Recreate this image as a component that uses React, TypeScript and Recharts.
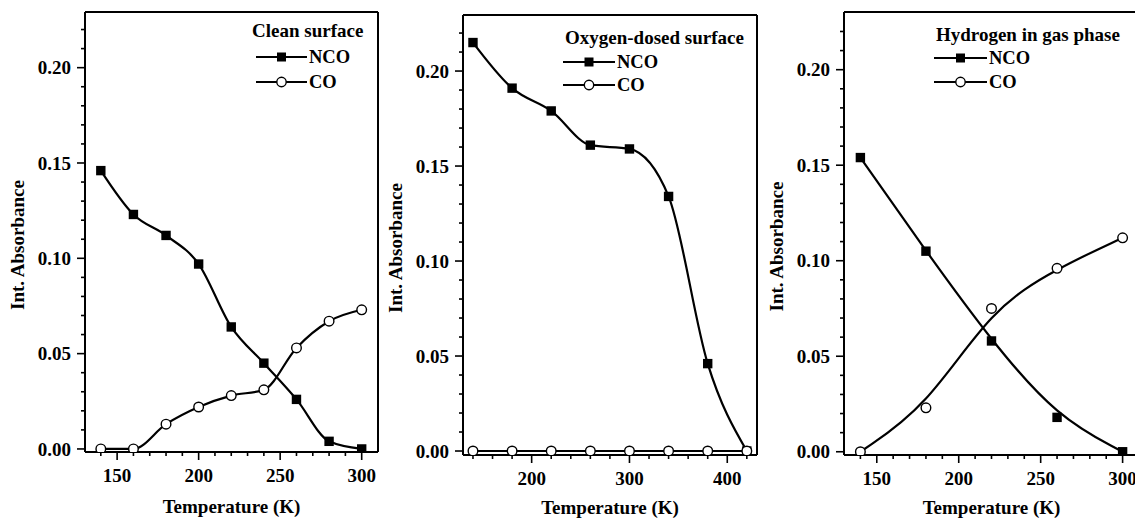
import React from 'react';
import { LineChart, Line, XAxis, YAxis } from 'recharts';

const FONT = "'Liberation Serif', 'Times New Roman', serif";

// Panel 1: Clean surface
const temps1 = [140, 160, 180, 200, 220, 240, 260, 280, 300];
const nco1 = [0.146, 0.123, 0.112, 0.097, 0.064, 0.045, 0.026, 0.004, 0.0];
const co1 = [0.0, 0.0, 0.013, 0.022, 0.028, 0.031, 0.053, 0.067, 0.073];

// Panel 2: Oxygen-dosed surface
const temps2 = [140, 180, 220, 260, 300, 340, 380, 420];
const nco2 = [0.215, 0.191, 0.179, 0.161, 0.159, 0.134, 0.046, 0.0];
const co2 = [0, 0, 0, 0, 0, 0, 0, 0];

// Panel 3: Hydrogen in gas phase
const temps3 = [140, 180, 220, 260, 300];
const nco3 = [0.154, 0.105, 0.058, 0.018, 0.0];
const co3 = [0.0, 0.023, 0.075, 0.096, 0.112];

const titles = ['Clean surface', 'Oxygen-dosed surface', 'Hydrogen in gas phase'];
const seriesNames = ['NCO', 'CO'];

const yTicks = [0, 0.01, 0.02, 0.03, 0.04, 0.05, 0.06, 0.07, 0.08, 0.09, 0.1, 0.11, 0.12, 0.13, 0.14, 0.15, 0.16, 0.17, 0.18, 0.19, 0.2, 0.21, 0.22];
const yMajor = [0, 0.05, 0.1, 0.15, 0.2];
const xTicksA = [140, 150, 160, 170, 180, 190, 200, 210, 220, 230, 240, 250, 260, 270, 280, 290, 300];
const xMajorA = [150, 200, 250, 300];
const xTicksB = [140, 160, 180, 200, 220, 240, 260, 280, 300, 320, 340, 360, 380, 400, 420];
const xMajorB = [200, 300, 400];

const build = (t: number[], a: number[], b: number[]) => t.map((x, i) => ({ T: x, NCO: a[i], CO: b[i] }));

const isMaj = (v: number, majors: number[]) => majors.some((m) => Math.abs(m - v) < 1e-9);

const YTick = (props: any) => {
  const { x, y, payload } = props;
  const maj = isMaj(payload.value, yMajor);
  return (
    <g>
      <line x1={x - (maj ? 8 : 4)} x2={x} y1={y} y2={y} stroke="#000" strokeWidth={1.6} />
      {maj && (
        <text x={x - 14} y={y} dy="0.35em" textAnchor="end" fontFamily={FONT} fontWeight="bold" fontSize={19} fill="#000">
          {payload.value.toFixed(2)}
        </text>
      )}
    </g>
  );
};

const makeXTick = (majors: number[]) => (props: any) => {
  const { x, y, payload } = props;
  const maj = isMaj(payload.value, majors);
  return (
    <g>
      <line x1={x} x2={x} y1={y} y2={y + (maj ? 8 : 4)} stroke="#000" strokeWidth={1.6} />
      {maj && (
        <text x={x} y={y + 30} textAnchor="middle" fontFamily={FONT} fontWeight="bold" fontSize={19} fill="#000">
          {payload.value}
        </text>
      )}
    </g>
  );
};

const SquareDot = (props: any) => {
  const { cx, cy } = props;
  if (cx == null || cy == null) return null;
  return <rect x={cx - 4.7} y={cy - 4.7} width={9.4} height={9.4} fill="#000" />;
};
const CircleDot = (props: any) => {
  const { cx, cy } = props;
  if (cx == null || cy == null) return null;
  return <circle cx={cx} cy={cy} r={4.8} fill="#fff" stroke="#000" strokeWidth={1.4} />;
};

type PanelProps = {
  left: number;
  width: number;
  margin: { top: number; right: number; bottom: number; left: number };
  data: any[];
  xDomain: [number, number];
  yDomain: [number, number];
  xTicks: number[];
  xMajor: number[];
  curve: any;
  xLabelDy: number;
};

const Panel = ({ left, width, margin, data, xDomain, yDomain, xTicks, xMajor, curve, xLabelDy }: PanelProps) => (
  <div style={{ position: 'absolute', left, top: 0 }}>
    <LineChart width={width} height={519} data={data} margin={margin}>
      <XAxis
        dataKey="T"
        type="number"
        domain={xDomain}
        ticks={xTicks}
        interval={0}
        allowDataOverflow
        height={1}
        tickSize={0}
        tickMargin={0}
        tickLine={false}
        axisLine={{ stroke: '#000', strokeWidth: 2 }}
        tick={makeXTick(xMajor)}
        label={{
          content: (p: any) => {
            const vb = p.viewBox;
            return (
              <text x={vb.x + vb.width / 2} y={vb.y + xLabelDy} textAnchor="middle" fontFamily={FONT} fontWeight="bold" fontSize={19} fill="#000">
                Temperature (K)
              </text>
            );
          },
        }}
      />
      <XAxis xAxisId="top" orientation="top" type="number" domain={xDomain} allowDataOverflow height={1} tick={false} tickLine={false} axisLine={{ stroke: '#000', strokeWidth: 2 }} />
      <YAxis
        type="number"
        domain={yDomain}
        ticks={yTicks}
        interval={0}
        allowDataOverflow
        width={1}
        tickSize={0}
        tickMargin={0}
        tickLine={false}
        axisLine={{ stroke: '#000', strokeWidth: 2 }}
        tick={YTick}
        label={{
          content: (p: any) => {
            const vb = p.viewBox;
            const cx = vb.x + vb.width - 67;
            const cy = vb.y + vb.height / 2 + 13;
            return (
              <text x={cx} y={cy} dy="0.33em" transform={`rotate(-90 ${cx} ${cy})`} textAnchor="middle" fontFamily={FONT} fontWeight="bold" fontSize={19} fill="#000">
                Int. Absorbance
              </text>
            );
          },
        }}
      />
      <YAxis yAxisId="right" orientation="right" type="number" domain={yDomain} allowDataOverflow width={1} tick={false} tickLine={false} axisLine={{ stroke: '#000', strokeWidth: 2 }} />
      <Line type={curve} dataKey="NCO" stroke="#000" strokeWidth={2.2} dot={<SquareDot />} isAnimationActive={false} />
      <Line type={curve} dataKey="CO" stroke="#000" strokeWidth={2.2} dot={<CircleDot />} isAnimationActive={false} />
    </LineChart>
  </div>
);

type LegendProps = { x: number; titleY: number; row1: number; row2: number; lineX1: number; lineX2: number; textX: number; title: string };
const LegendBox = ({ x, titleY, row1, row2, lineX1, lineX2, textX, title }: LegendProps) => {
  const mx = (lineX1 + lineX2) / 2;
  return (
    <svg style={{ position: 'absolute', left: 0, top: 0, overflow: 'visible' }} width={1} height={1}>
      <text x={x} y={titleY} fontFamily={FONT} fontWeight="bold" fontSize={19} fill="#000">{title}</text>
      <line x1={lineX1} x2={lineX2} y1={row1} y2={row1} stroke="#000" strokeWidth={2.2} />
      <rect x={mx - 4.5} y={row1 - 4.5} width={9} height={9} fill="#000" />
      <text x={textX} y={row1} dy="0.35em" fontFamily={FONT} fontWeight="bold" fontSize={18.5} fill="#000">{seriesNames[0]}</text>
      <line x1={lineX1} x2={lineX2} y1={row2} y2={row2} stroke="#000" strokeWidth={2.2} />
      <circle cx={mx} cy={row2} r={4.7} fill="#fff" stroke="#000" strokeWidth={1.4} />
      <text x={textX} y={row2} dy="0.35em" fontFamily={FONT} fontWeight="bold" fontSize={18.5} fill="#000">{seriesNames[1]}</text>
    </svg>
  );
};

export default function App() {
  return (
    <div style={{ position: 'fixed', left: 0, top: 0, width: 1135, height: 519, overflow: 'hidden', background: '#fff' }}>
      <Panel
        left={0}
        width={380}
        margin={{ top: 11, right: 1, bottom: 66, left: 84 }}
        data={build(temps1, nco1, co1)}
        xDomain={[130.3, 310]}
        yDomain={[-0.0016, 0.2292]}
        xTicks={xTicksA}
        xMajor={xMajorA}
        curve="monotone"
        xLabelDy={61}
      />
      <Panel
        left={380}
        width={379}
        margin={{ top: 14, right: 1, bottom: 63, left: 82 }}
        data={build(temps2, nco2, co2)}
        xDomain={[129.8, 430.4]}
        yDomain={[-0.0021, 0.2295]}
        xTicks={xTicksB}
        xMajor={xMajorB}
        curve="monotone"
        xLabelDy={59}
      />
      <Panel
        left={760}
        width={382}
        margin={{ top: 11, right: 2, bottom: 63, left: 83 }}
        data={build(temps3, nco3, co3)}
        xDomain={[130, 310]}
        yDomain={[-0.0017, 0.2302]}
        xTicks={xTicksA}
        xMajor={xMajorA}
        curve="basis"
        xLabelDy={59}
      />
      <LegendBox x={252} titleY={37} row1={57} row2={82} lineX1={256} lineX2={307} textX={309} title={titles[0]} />
      <LegendBox x={565} titleY={44} row1={62} row2={85} lineX1={563} lineX2={615} textX={617} title={titles[1]} />
      <LegendBox x={936} titleY={41} row1={58} row2={82} lineX1={934} lineX2={987} textX={989} title={titles[2]} />
    </div>
  );
}
